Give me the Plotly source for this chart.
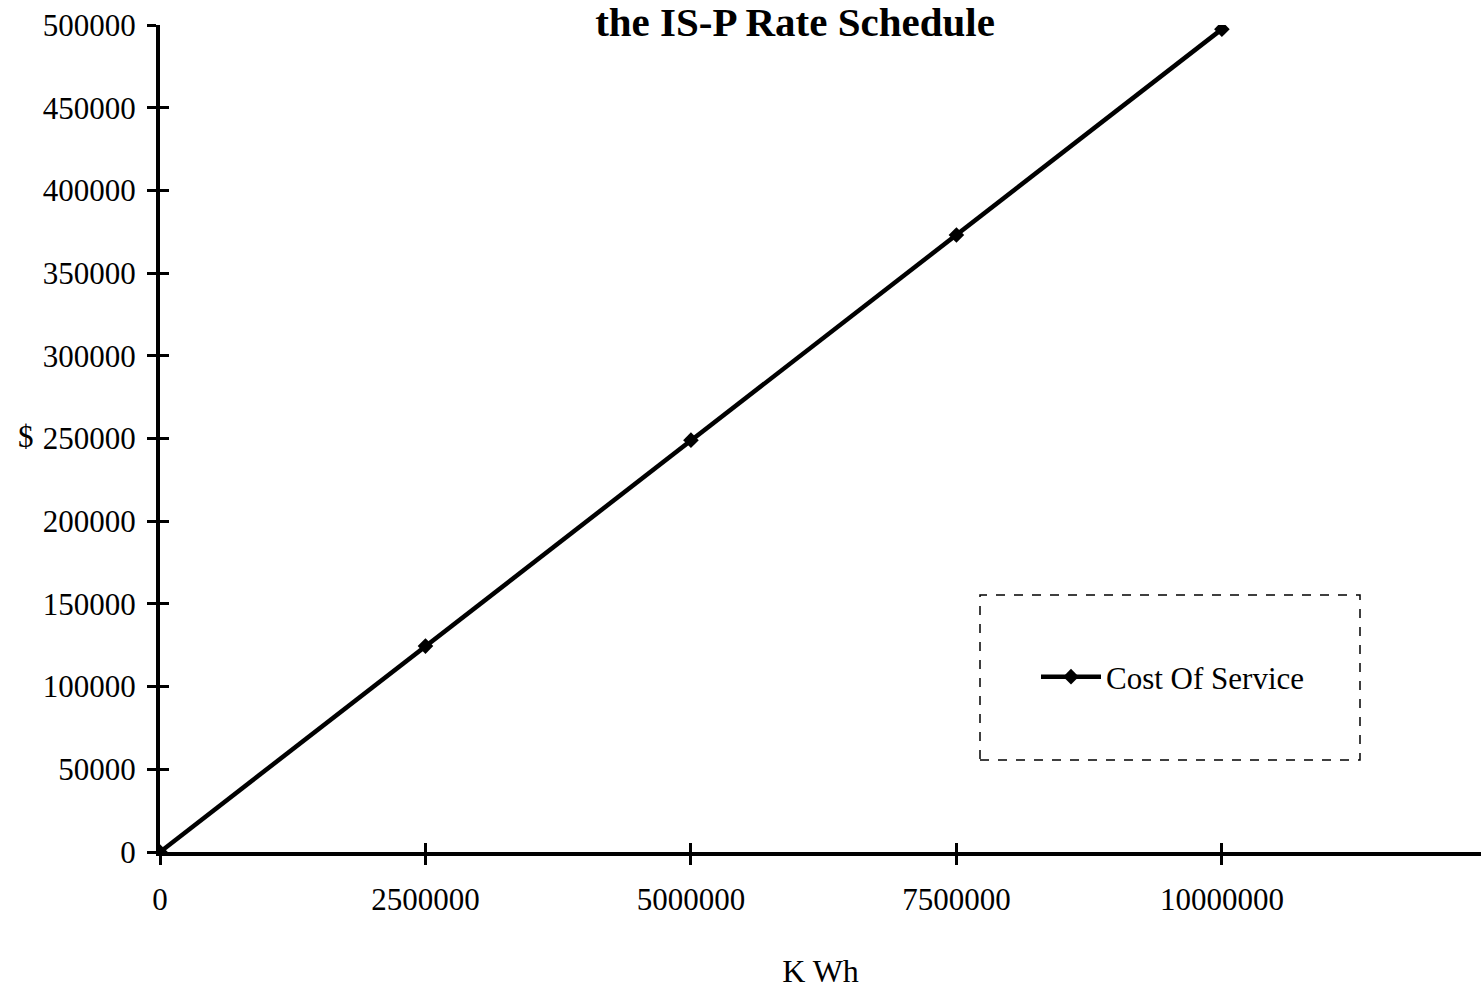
import plotly.graph_objects as go

kwh = [0, 2500000, 5000000, 7500000, 10000000]
cost = [0, 124500, 249000, 373000, 497500]
series_name = "Cost Of Service"
x_ticks = [0, 2500000, 5000000, 7500000, 10000000]
y_ticks = [0, 50000, 100000, 150000, 200000, 250000, 300000, 350000, 400000, 450000, 500000]

FONT = "Liberation Serif"
W, H = 1481, 991
L, T, B, R = 160, 25, H - 852, 0
PW, PH = W - L - R, H - T - B

fig = go.Figure()
fig.add_trace(go.Scatter(
    x=kwh, y=cost, mode="lines+markers", name=series_name,
    line=dict(color="black", width=4.5),
    marker=dict(symbol="diamond", size=12, color="black"),
))
# invisible trace on overlay axes (used for inward tick halves)
fig.add_trace(go.Scatter(
    x=kwh, y=cost, xaxis="x2", yaxis="y2", mode="lines",
    line=dict(color="rgba(0,0,0,0)"), showlegend=False, hoverinfo="skip",
))

xr = [0, 12440000]
yr = [0, 500000]

common_tick = dict(ticklen=9, tickwidth=3, tickcolor="black")

def px_x(px):
    return (px - L) / PW

def px_y(py):
    return (852 - py) / PH

fig.update_layout(
    width=W, height=H,
    paper_bgcolor="white", plot_bgcolor="white",
    margin=dict(l=L, r=R, t=T, b=B),
    font=dict(family=FONT, color="black", size=31),
    showlegend=True,
    title=dict(text="<b>the IS-P Rate Schedule</b>", x=795 / W, xanchor="center",
               y=1 - 22 / H, yanchor="middle", yref="container",
               font=dict(family=FONT, size=41, color="black")),
    xaxis=dict(range=xr, tickvals=x_ticks, ticktext=[str(v) for v in x_ticks],
               showgrid=False, zeroline=False, showline=True, linecolor="black",
               linewidth=4, ticks="outside", ticklabelstandoff=8,
               ticklabeloverflow="allow",
               tickfont=dict(family=FONT, size=31),
               title=dict(text="K Wh", standoff=44, font=dict(family=FONT, size=32)),
               **common_tick),
    yaxis=dict(range=yr, tickvals=y_ticks, ticktext=[str(v) for v in y_ticks],
               showgrid=False, zeroline=False, showline=True, linecolor="black",
               linewidth=4, ticks="outside", ticklabelstandoff=5,
               ticklabeloverflow="allow",
               tickfont=dict(family=FONT, size=31), **common_tick),
    xaxis2=dict(range=xr, overlaying="x", anchor="y2", tickvals=x_ticks,
                showticklabels=False, showgrid=False, zeroline=False,
                showline=False, ticks="inside", **common_tick),
    yaxis2=dict(range=yr, overlaying="y", anchor="x2", tickvals=y_ticks,
                showticklabels=False, showgrid=False, zeroline=False,
                showline=False, ticks="inside", **common_tick),
    legend=dict(x=px_x(1173), y=px_y(677), xanchor="center", yanchor="middle",
                bgcolor="rgba(0,0,0,0)", borderwidth=0, itemwidth=60,
                font=dict(family=FONT, size=31)),
)

# legend frame
fig.add_shape(type="rect", xref="paper", yref="paper",
              x0=px_x(980), x1=px_x(1360), y0=px_y(760), y1=px_y(595),
              line=dict(color="black", width=1.5, dash="dash"))

fig.add_annotation(text="$", xref="paper", yref="paper", x=px_x(26),
                   y=px_y(436), showarrow=False, xanchor="center",
                   yanchor="middle", font=dict(family=FONT, size=31))

fig.write_html("out.html", config={"displayModeBar": False},
               post_script="document.body.style.margin='0px';document.body.style.overflow='hidden';")
